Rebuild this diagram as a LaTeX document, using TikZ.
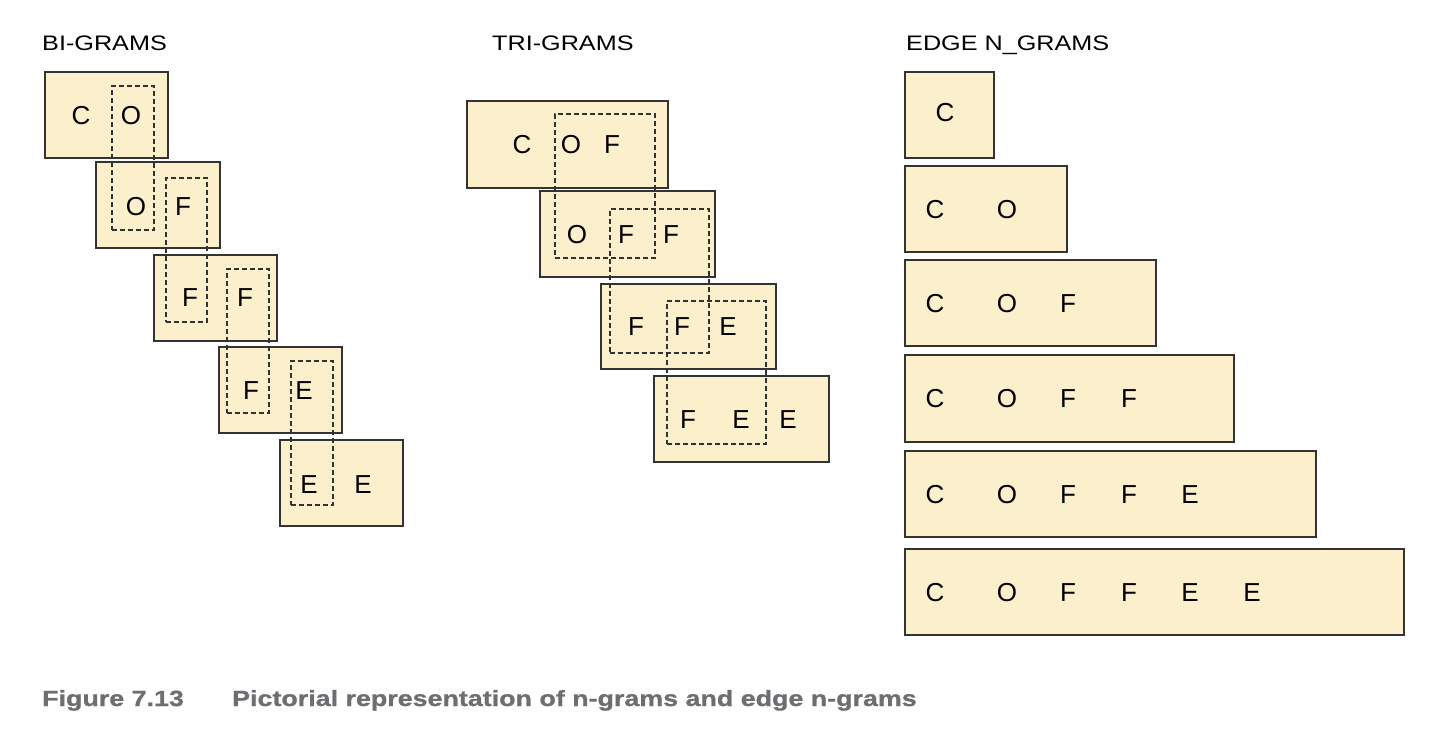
\documentclass[tikz,border=0pt]{standalone}
\usepackage{fontspec}
\setmainfont{Liberation Sans}
\newfontfamily\boxfont{Liberation Sans}
\newfontfamily\headfontface[FakeStretch=1.2]{Liberation Sans}
\newfontfamily\capfontface[FakeStretch=1.22,FakeBold=1]{Liberation Sans Bold}
\usepackage{xcolor}
\definecolor{GramFill}{HTML}{FCEFCC}
\definecolor{GramEdge}{HTML}{333333}
\definecolor{GramDash}{HTML}{333333}
\definecolor{CaptionGray}{HTML}{6D6E71}
\usepackage{tikz}
\usetikzlibrary{positioning}
\newcommand{\lettersize}{\boxfont\fontsize{26}{30}\selectfont}
\newcommand{\headsize}{\headfontface\fontsize{21}{25}\selectfont}
\newcommand{\capsize}{\capfontface\fontsize{22}{26}\selectfont}

\begin{document}
\begin{tikzpicture}[x=1pt,y=-1pt,
  gram/.style 2 args={draw=GramEdge,line width=1.7pt,fill=GramFill,inner sep=0pt,anchor=north west,minimum width=#1pt,minimum height=#2pt},
  win/.style 2 args={draw=GramDash,line width=1.6pt,dash pattern=on 5pt off 3pt,inner sep=0pt,anchor=north west,minimum width=#1pt,minimum height=#2pt},
  chr/.style={font=\lettersize,inner sep=0pt},
  head/.style={font=\headsize,anchor=base west,inner sep=0pt},
  figcap/.style={font=\capsize,text=CaptionGray,anchor=base west,inner sep=0pt}
]
  \useasboundingbox (0,0) rectangle (1436,742);

  % titles
  \node[head] (bihead) at (42,50) {BI-GRAMS};
  \node[head] (trihead) at (492,50) {TRI-GRAMS};
  \node[head] (edgehead) at (906,50) {EDGE N\_GRAMS};

  % bi-grams
  \node[gram={123}{86}] (bi1) at (44,71) {};
  \node[gram={124}{86}] (bi2) at (95,161) {};
  \node[gram={123}{86}] (bi3) at (153,254) {};
  \node[gram={123}{86}] (bi4) at (218,346) {};
  \node[gram={123}{86}] (bi5) at (279,439) {};
  \node[chr] (bi1a) at (81,116) {C};
  \node[chr] (bi1b) at (131,116) {O};
  \node[chr] (bi2a) at (136,207) {O};
  \node[chr] (bi2b) at (183,207) {F};
  \node[chr] (bi3a) at (190,298) {F};
  \node[chr] (bi3b) at (245,298) {F};
  \node[chr] (bi4a) at (251,391) {F};
  \node[chr] (bi4b) at (304,391) {E};
  \node[chr] (bi5a) at (309,485) {E};
  \node[chr] (bi5b) at (363,485) {E};
  \node[win={42}{144}] (biw1) at (111,85) {};
  \node[win={41}{144}] (biw2) at (165,177) {};
  \node[win={42}{144}] (biw3) at (226,268) {};
  \node[win={42}{144}] (biw4) at (290,360) {};

  % tri-grams
  \node[gram={201}{87}] (tri1) at (466,100) {};
  \node[gram={175}{86}] (tri2) at (539,190) {};
  \node[gram={175}{85}] (tri3) at (600,283) {};
  \node[gram={175}{86}] (tri4) at (653,375) {};
  \node[chr] (tri1a) at (522,145) {C};
  \node[chr] (tri1b) at (571,145) {O};
  \node[chr] (tri1c) at (612,145) {F};
  \node[chr] (tri2a) at (577,235) {O};
  \node[chr] (tri2b) at (626,235) {F};
  \node[chr] (tri2c) at (671,235) {F};
  \node[chr] (tri3a) at (636,327) {F};
  \node[chr] (tri3b) at (682,327) {F};
  \node[chr] (tri3c) at (728,327) {E};
  \node[chr] (tri4a) at (688,420) {F};
  \node[chr] (tri4b) at (741,420) {E};
  \node[chr] (tri4c) at (788,420) {E};
  \node[win={100}{144}] (triw1) at (554,113) {};
  \node[win={99}{144}] (triw2) at (609,208) {};
  \node[win={99}{143}] (triw3) at (666,300) {};

  % edge n-grams
  \node[gram={89}{86}] (edge1) at (904,71) {};
  \node[gram={162}{86}] (edge2) at (904,165) {};
  \node[gram={251}{86}] (edge3) at (904,259) {};
  \node[gram={329}{87}] (edge4) at (904,354) {};
  \node[gram={411}{86}] (edge5) at (904,450) {};
  \node[gram={499}{86}] (edge6) at (904,548) {};
  \node[chr] (edge1a) at (945,113) {C};
  \node[chr] (edge2a) at (935,210) {C};
  \node[chr] (edge2b) at (1007,210) {O};
  \node[chr] (edge3a) at (935,304) {C};
  \node[chr] (edge3b) at (1007,304) {O};
  \node[chr] (edge3c) at (1068,304) {F};
  \node[chr] (edge4a) at (935,399) {C};
  \node[chr] (edge4b) at (1007,399) {O};
  \node[chr] (edge4c) at (1068,399) {F};
  \node[chr] (edge4d) at (1129,399) {F};
  \node[chr] (edge5a) at (935,495) {C};
  \node[chr] (edge5b) at (1007,495) {O};
  \node[chr] (edge5c) at (1068,495) {F};
  \node[chr] (edge5d) at (1129,495) {F};
  \node[chr] (edge5e) at (1190,495) {E};
  \node[chr] (edge6a) at (935,593) {C};
  \node[chr] (edge6b) at (1007,593) {O};
  \node[chr] (edge6c) at (1068,593) {F};
  \node[chr] (edge6d) at (1129,593) {F};
  \node[chr] (edge6e) at (1190,593) {E};
  \node[chr] (edge6f) at (1252,593) {E};

  % caption
  \node[figcap] (capnum) at (42,706) {Figure 7.13};
  \node[figcap] (captext) at (232,706) {Pictorial representation of n-grams and edge n-grams};
\end{tikzpicture}
\end{document}
